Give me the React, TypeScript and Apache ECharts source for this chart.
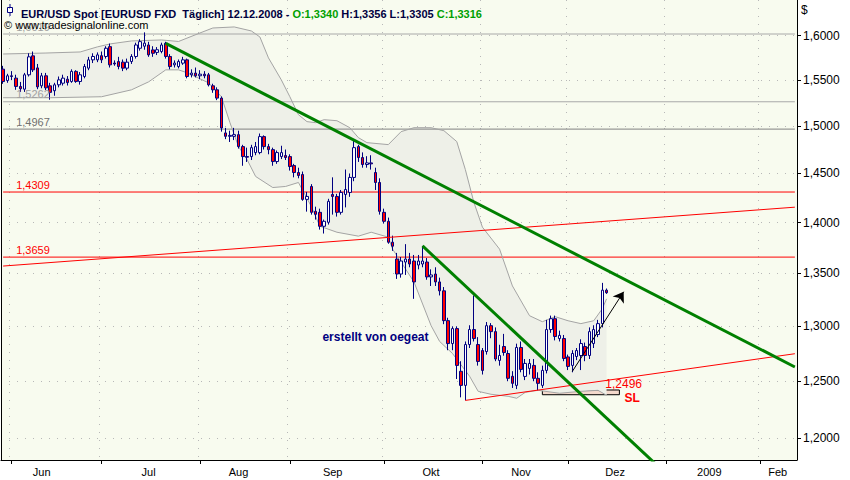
import React, { useEffect, useRef } from 'react';
import * as echarts from 'echarts';

// ---------- data ----------
const FIRST_DAY = '2008-05-29';
const DAY_COUNT = 186; // trading days shown on the axis (to Feb 2009)
const MONTHS_DE = ['Jan', 'Feb', 'Mär', 'Apr', 'Mai', 'Jun', 'Jul', 'Aug', 'Sep', 'Okt', 'Nov', 'Dez'];
// trading days on which the month names are written
const monthLabelDays = ['2008-06-11', '2008-07-16', '2008-08-14', '2008-09-15', '2008-10-16', '2008-11-14', '2008-12-16', '2009-01-15', '2009-02-06'];

const priceTicks = [1.2, 1.25, 1.3, 1.35, 1.4, 1.45, 1.5, 1.55, 1.6];
const priceMin = 1.1816;
const priceMax = 1.6413;

// daily EUR/USD candles from 2008-05-29: [open, high, low, close]
const ohlc: number[][] = [
  [1.5622, 1.5659, 1.5459, 1.5484], [1.5495, 1.557, 1.547, 1.5548], [1.5548, 1.56, 1.55, 1.554],
  [1.5522, 1.556, 1.5393, 1.543], [1.543, 1.548, 1.537, 1.5405], [1.54, 1.558, 1.537, 1.5559],
  [1.5559, 1.58, 1.554, 1.576], [1.5771, 1.582, 1.559, 1.5614], [1.5636, 1.568, 1.54, 1.5425],
  [1.5437, 1.558, 1.541, 1.5548], [1.5548, 1.558, 1.539, 1.5415], [1.5437, 1.547, 1.5284, 1.5365],
  [1.5383, 1.547, 1.5328, 1.5448], [1.5448, 1.554, 1.542, 1.5503], [1.5466, 1.556, 1.544, 1.5522],
  [1.551, 1.5545, 1.544, 1.5473], [1.5485, 1.562, 1.547, 1.5597], [1.5597, 1.561, 1.547, 1.5485],
  [1.5485, 1.559, 1.545, 1.5559], [1.554, 1.568, 1.552, 1.5651], [1.5633, 1.576, 1.561, 1.5726],
  [1.5726, 1.58, 1.569, 1.5764], [1.5726, 1.581, 1.57, 1.5782], [1.5773, 1.582, 1.569, 1.5726],
  [1.5764, 1.588, 1.574, 1.5857], [1.5875, 1.591, 1.564, 1.567], [1.569, 1.572, 1.566, 1.568],
  [1.5707, 1.576, 1.562, 1.5651], [1.57, 1.573, 1.56, 1.5633], [1.5633, 1.574, 1.561, 1.57],
  [1.5707, 1.579, 1.568, 1.5764], [1.5764, 1.592, 1.574, 1.5894], [1.5857, 1.596, 1.583, 1.5932],
  [1.588, 1.6038, 1.584, 1.5915], [1.5894, 1.593, 1.576, 1.5782], [1.5838, 1.588, 1.576, 1.58],
  [1.581, 1.587, 1.578, 1.584], [1.582, 1.592, 1.58, 1.5894], [1.5913, 1.593, 1.574, 1.5764],
  [1.5764, 1.579, 1.562, 1.5651], [1.567, 1.572, 1.564, 1.569], [1.5651, 1.573, 1.563, 1.5707],
  [1.5689, 1.576, 1.567, 1.5726], [1.5726, 1.574, 1.552, 1.554], [1.5559, 1.562, 1.553, 1.5578],
  [1.5578, 1.564, 1.553, 1.5548], [1.5548, 1.561, 1.551, 1.5566], [1.5566, 1.56, 1.552, 1.5548],
  [1.5559, 1.558, 1.543, 1.5448], [1.5437, 1.546, 1.536, 1.5393], [1.5393, 1.542, 1.528, 1.5302],
  [1.5302, 1.532, 1.494, 1.4979], [1.4926, 1.498, 1.486, 1.489], [1.489, 1.495, 1.483, 1.49],
  [1.489, 1.498, 1.485, 1.4908], [1.4908, 1.495, 1.476, 1.4781], [1.4781, 1.48, 1.458, 1.4676],
  [1.4676, 1.477, 1.462, 1.467], [1.4676, 1.48, 1.464, 1.477], [1.4718, 1.483, 1.469, 1.4781],
  [1.4718, 1.492, 1.47, 1.4887], [1.4887, 1.49, 1.475, 1.4781], [1.4781, 1.481, 1.47, 1.4749],
  [1.4749, 1.477, 1.458, 1.4624], [1.4624, 1.474, 1.46, 1.4718], [1.4676, 1.479, 1.465, 1.4718],
  [1.4687, 1.475, 1.464, 1.4666], [1.4676, 1.47, 1.453, 1.4572], [1.4582, 1.46, 1.446, 1.451],
  [1.451, 1.456, 1.445, 1.4479], [1.4489, 1.452, 1.422, 1.4234], [1.4234, 1.431, 1.411, 1.4264],
  [1.4366, 1.439, 1.408, 1.4103], [1.4113, 1.416, 1.403, 1.4083], [1.4103, 1.414, 1.393, 1.3963],
  [1.3963, 1.403, 1.3891, 1.4013], [1.4003, 1.424, 1.398, 1.4214], [1.4284, 1.446, 1.408, 1.4264],
  [1.4264, 1.429, 1.406, 1.4103], [1.4103, 1.433, 1.408, 1.4305], [1.4284, 1.4541, 1.4153, 1.4335],
  [1.4305, 1.45, 1.426, 1.4459], [1.4459, 1.484, 1.442, 1.477], [1.4781, 1.48, 1.462, 1.4666],
  [1.4666, 1.472, 1.456, 1.4593], [1.4593, 1.468, 1.456, 1.461], [1.461, 1.469, 1.454, 1.46],
  [1.451, 1.456, 1.433, 1.4407], [1.4407, 1.445, 1.408, 1.4113], [1.4103, 1.414, 1.399, 1.4013],
  [1.4013, 1.405, 1.379, 1.3805], [1.3805, 1.387, 1.372, 1.3766], [1.364, 1.37, 1.3448, 1.3495],
  [1.3495, 1.366, 1.346, 1.3621], [1.3611, 1.3786, 1.3486, 1.364], [1.364, 1.37, 1.356, 1.3592],
  [1.3621, 1.368, 1.3258, 1.3419], [1.3582, 1.368, 1.354, 1.3621], [1.3592, 1.3769, 1.356, 1.3621],
  [1.3611, 1.365, 1.344, 1.3467], [1.3467, 1.354, 1.338, 1.3486], [1.3495, 1.356, 1.338, 1.3419],
  [1.3419, 1.346, 1.329, 1.3334], [1.3334, 1.337, 1.302, 1.3053], [1.3053, 1.308, 1.278, 1.2841],
  [1.2841, 1.3, 1.278, 1.2979], [1.2979, 1.3, 1.252, 1.2642], [1.2589, 1.268, 1.2357, 1.2463],
  [1.2463, 1.286, 1.233, 1.2832], [1.2832, 1.301, 1.28, 1.297], [1.297, 1.329, 1.286, 1.2887],
  [1.2832, 1.29, 1.264, 1.2678], [1.2777, 1.28, 1.256, 1.2597], [1.2768, 1.304, 1.274, 1.3006],
  [1.3006, 1.303, 1.289, 1.2951], [1.2951, 1.299, 1.268, 1.27], [1.2687, 1.283, 1.264, 1.2732],
  [1.2814, 1.293, 1.273, 1.2759], [1.275, 1.278, 1.25, 1.2526], [1.2544, 1.259, 1.244, 1.2481],
  [1.2463, 1.284, 1.243, 1.2805], [1.2805, 1.286, 1.258, 1.2606], [1.2543, 1.27, 1.251, 1.266],
  [1.2615, 1.27, 1.256, 1.266], [1.2642, 1.27, 1.25, 1.2526], [1.2526, 1.258, 1.242, 1.2481],
  [1.2463, 1.264, 1.244, 1.2597], [1.2597, 1.306, 1.257, 1.297], [1.297, 1.31, 1.294, 1.3071],
  [1.3071, 1.31, 1.287, 1.2906], [1.2887, 1.296, 1.286, 1.2916], [1.2887, 1.292, 1.268, 1.2705],
  [1.2719, 1.274, 1.26, 1.2633], [1.2642, 1.278, 1.258, 1.275], [1.2723, 1.28, 1.269, 1.2777],
  [1.2732, 1.288, 1.26, 1.2841], [1.2814, 1.285, 1.268, 1.2732], [1.2732, 1.299, 1.27, 1.2951],
  [1.2841, 1.301, 1.28, 1.297], [1.2924, 1.306, 1.29, 1.3025], [1.3025, 1.341, 1.299, 1.334],
  [1.334, 1.3356, 1.3305, 1.3316],
];

// Bollinger bands: [date, price]
const upperBand: [string, number][] = [
  ['2008-05-29', 1.5792], ['2008-06-12', 1.5803], ['2008-06-24', 1.5815], ['2008-06-30', 1.5872],
  ['2008-07-03', 1.5906], ['2008-07-10', 1.594], ['2008-07-21', 1.5951], ['2008-07-25', 1.5934],
  ['2008-08-01', 1.6031], ['2008-08-06', 1.6088], ['2008-08-13', 1.61], ['2008-08-19', 1.6054],
  ['2008-08-21', 1.5985], ['2008-08-25', 1.5748], ['2008-08-28', 1.5503], ['2008-09-01', 1.5317],
  ['2008-09-03', 1.5122], ['2008-09-05', 1.5047], ['2008-09-09', 1.5036], ['2008-09-11', 1.5068],
  ['2008-09-16', 1.5057], ['2008-09-19', 1.4982], ['2008-09-23', 1.4876], ['2008-09-25', 1.4823],
  ['2008-10-02', 1.4802], ['2008-10-07', 1.494], ['2008-10-10', 1.4982], ['2008-10-16', 1.4982],
  ['2008-10-21', 1.495], ['2008-10-24', 1.4834], ['2008-10-28', 1.4541], ['2008-10-30', 1.4204],
  ['2008-11-03', 1.3954], ['2008-11-07', 1.3737], ['2008-11-12', 1.3381], ['2008-11-18', 1.3099],
  ['2008-11-21', 1.3043], ['2008-11-26', 1.309], ['2008-12-01', 1.3052], ['2008-12-04', 1.3025],
  ['2008-12-09', 1.3052], ['2008-12-11', 1.3164], ['2008-12-12', 1.3258],
];
const lowerBand: [string, number][] = [
  ['2008-05-29', 1.5306], ['2008-06-13', 1.5306], ['2008-07-01', 1.5317], ['2008-07-10', 1.5393],
  ['2008-07-16', 1.5481], ['2008-07-22', 1.5614], ['2008-07-25', 1.5614], ['2008-07-29', 1.5581],
  ['2008-08-05', 1.547], ['2008-08-08', 1.5317], ['2008-08-12', 1.5036], ['2008-08-14', 1.4781],
  ['2008-08-18', 1.4645], ['2008-08-20', 1.4469], ['2008-08-26', 1.4355], ['2008-08-29', 1.4366],
  ['2008-09-03', 1.4407], ['2008-09-08', 1.4163], ['2008-09-10', 1.3964], ['2008-09-16', 1.3904],
  ['2008-09-23', 1.3865], ['2008-09-26', 1.3904], ['2008-10-02', 1.3855], ['2008-10-03', 1.3737],
  ['2008-10-10', 1.3419], ['2008-10-16', 1.3006], ['2008-10-20', 1.286], ['2008-10-23', 1.275],
  ['2008-10-29', 1.2544], ['2008-10-31', 1.241], ['2008-11-05', 1.2384], ['2008-11-11', 1.2366],
  ['2008-11-13', 1.2349], ['2008-11-17', 1.2401], ['2008-11-20', 1.2419], ['2008-11-27', 1.2393],
  ['2008-12-04', 1.241], ['2008-12-10', 1.2419], ['2008-12-12', 1.2375],
];

// horizontal levels
const levelValues = [1.6019, 1.5262, 1.4967, 1.4309, 1.3659];

// trend lines: [date, price] anchors
const greenTrend1: [string, number][] = [['2008-07-22', 1.5913], ['2009-02-12', 1.2628]];
const greenTrend2: [string, number][] = [['2008-10-14', 1.3769], ['2009-01-01', 1.1697]];
const redTrend1: [string, number][] = [['2008-10-28', 1.233], ['2009-02-12', 1.2748]];
const redTrend2: [string, number][] = [['2008-05-29', 1.3572], ['2009-02-12', 1.4155]];
const arrowLine: [string, number][] = [['2008-12-02', 1.2588], ['2008-12-18', 1.3325]];
const slBox: [string, number][] = [['2008-11-21', 1.2422], ['2008-12-17', 1.238]];
const slValue = 1.2496;
const slValueAnchor: [string, number] = ['2008-12-18', 1.2472];
const slTextAnchor: [string, number] = ['2008-12-22', 1.2353];
const authorAnchor: [string, number] = ['2008-09-29', 1.2898];

// ---------- helpers ----------
const FONT = '"Liberation Sans", Arial, sans-serif';
const ln = Math.log;
const fmt = (v: number) => v.toFixed(4).replace('.', ',');

function tradingDays(first: string, count: number): string[] {
  const out: string[] = [];
  const d = new Date(first + 'T00:00:00Z');
  while (out.length < count) {
    const wd = d.getUTCDay();
    if (wd !== 0 && wd !== 6) out.push(d.toISOString().slice(0, 10));
    d.setUTCDate(d.getUTCDate() + 1);
  }
  return out;
}

const dates = tradingDays(FIRST_DAY, DAY_COUNT);
const idx = (d: string) => dates.indexOf(d);
const monthStarts = new Set<number>();
dates.forEach((d, i) => {
  if (i > 0 && d.slice(5, 7) !== dates[i - 1].slice(5, 7)) monthStarts.add(i);
});
const labelIdx = new Set<number>(monthLabelDays.map(idx));

const levelLine = ['#A8A8A8', '#A8A8A8', '#808080', '#FF0000', '#FF0000'];
const levelText = ['#A0A0A0', '#A0A0A0', '#707070', '#FF0000', '#FF0000'];

function trend(points: [string, number][], color: string, width: number, z: number) {
  return {
    type: 'line',
    data: points.map(([d, p]) => [d, ln(p)]),
    symbol: 'none',
    clip: true,
    silent: true,
    z,
    itemStyle: { color },
    lineStyle: { color, width },
  };
}

// a horizontal level: a line across all trading days, labelled above its left end
function level(v: number, i: number) {
  return {
    type: 'line',
    data: [[dates[0], ln(v)], [dates[dates.length - 1], ln(v)]],
    symbol: 'none',
    z: 3,
    silent: true,
    itemStyle: { color: levelLine[i] },
    lineStyle: { color: levelLine[i], width: 1, type: 'solid' },
    markPoint: {
      silent: true,
      symbol: 'circle',
      symbolSize: 1,
      itemStyle: { color: 'rgba(0,0,0,0)' },
      data: [
        {
          coord: [dates[0], ln(v)],
          label: {
            show: true,
            position: 'inside',
            align: 'left',
            verticalAlign: 'bottom',
            offset: [13, -2],
            formatter: fmt(v),
            color: levelText[i],
            fontSize: 11,
            fontFamily: FONT,
          },
        },
      ],
    },
  };
}

export default function App() {
  const ref = useRef<HTMLDivElement>(null);
  useEffect(() => {
    if (!ref.current) return;
    const chart = echarts.init(ref.current, undefined, { renderer: 'svg' });
    const tickLn = priceTicks.map((p) => ln(p));
    const candleData = ohlc.map(([o, h, l, c]) => [ln(o), ln(c), ln(l), ln(h)]);
    const grid = '#B8B8B8';

    const option: any = {
      animation: false,
      backgroundColor: '#FFFFFF',
      textStyle: { fontFamily: FONT },
      title: {
        left: 16,
        top: 3,
        text: '{n|EUR/USD Spot [EURUSD FXD  Täglich] 12.12.2008 - }{g|O:1,3340}{n| H:1,3356 L:1,3305 }{g|C:1,3316}',
        textStyle: {
          rich: {
            n: { color: '#000040', fontSize: 11, fontFamily: FONT },
            g: { color: '#00A000', fontSize: 11, fontFamily: FONT },
          },
        },
      },
      grid: {
        left: 1,
        top: 0,
        width: 796,
        height: 460,
        show: true,
        backgroundColor: '#F8FBEF',
        borderWidth: 0,
      },
      xAxis: {
        type: 'category',
        data: dates,
        boundaryGap: true,
        axisLine: { show: true, lineStyle: { color: '#000', width: 1 } },
        axisTick: {
          show: true,
          alignWithLabel: true,
          interval: (i: number) => monthStarts.has(i),
          length: 4,
          lineStyle: { color: '#000' },
        },
        axisLabel: {
          show: true,
          interval: (i: number) => labelIdx.has(i),
          formatter: (v: string) => {
            const m = +v.slice(5, 7);
            return m === 1 ? v.slice(0, 4) : MONTHS_DE[m - 1];
          },
          color: '#000',
          fontSize: 11,
          margin: 6,
          fontFamily: FONT,
        },
        splitLine: {
          show: true,
          interval: (i: number) => monthStarts.has(i),
          lineStyle: { color: grid, type: [1, 7], width: 1 },
        },
      },
      yAxis: [
        {
          type: 'value',
          position: 'right',
          min: ln(priceMin),
          max: ln(priceMax),
          axisLine: { show: true, onZero: false, lineStyle: { color: '#000' } },
          axisTick: { show: true, customValues: tickLn, length: 4, lineStyle: { color: '#000' } },
          axisLabel: {
            show: true,
            customValues: tickLn,
            formatter: (v: number) => fmt(Math.exp(v)),
            color: '#000',
            fontSize: 12,
            margin: 6,
            fontFamily: FONT,
          },
          splitLine: { show: true, lineStyle: { color: grid, type: [1, 7], width: 1 } },
        },
        {
          type: 'value',
          position: 'left',
          min: ln(priceMin),
          max: ln(priceMax),
          axisLine: { show: true, onZero: false, lineStyle: { color: '#000' } },
          axisTick: { show: false },
          axisLabel: { show: false },
          splitLine: { show: false },
        },
      ],
      graphic: [
        { type: 'line', shape: { x1: 10, y1: 4, x2: 10, y2: 16 }, style: { stroke: '#000080', lineWidth: 1 } },
        { type: 'rect', shape: { x: 7.5, y: 7.5, width: 5, height: 5 }, style: { fill: '#FFFFFF', stroke: '#000080', lineWidth: 1 } },
        { type: 'text', left: 4, top: 19, z: 100, style: { text: '© www.tradesignalonline.com', fill: '#000000', font: `11px ${FONT}` } },
        { type: 'text', left: 801, top: 4, style: { text: '$', fill: '#000000', font: `12px ${FONT}` } },
      ],
      series: [
        {
          type: 'custom',
          z: 1,
          silent: true,
          clip: true,
          data: [[0, ln(1.4)]],
          renderItem: (_p: any, api: any) => {
            const pts = [
              ...upperBand.map(([d, p]) => api.coord([idx(d), ln(p)])),
              ...lowerBand.slice().reverse().map(([d, p]) => api.coord([idx(d), ln(p)])),
            ];
            return { type: 'polygon', shape: { points: pts }, style: { fill: '#EEF0E8' } };
          },
        },
        {
          type: 'line',
          z: 2,
          silent: true,
          data: [],
          markArea: {
            silent: true,
            itemStyle: { color: '#F4D9CC', borderColor: '#000', borderWidth: 1 },
            data: [[{ coord: [slBox[0][0], ln(slBox[0][1])] }, { coord: [slBox[1][0], ln(slBox[1][1])] }]],
          },
        },
        ...levelValues.map((v, i) => level(v, i)),
        trend(upperBand, '#A4A4A4', 1, 3),
        trend(lowerBand, '#A4A4A4', 1, 3),
        {
          type: 'candlestick',
          z: 4,
          silent: true,
          barWidth: 3,
          data: candleData,
          itemStyle: {
            color: '#FFFFFF',
            color0: '#FF0000',
            borderColor: '#000080',
            borderColor0: '#000080',
            borderWidth: 1,
          },
        },
        trend(redTrend2, '#FF0000', 1, 5),
        trend(redTrend1, '#FF0000', 1, 5),
        trend(greenTrend1, '#008000', 3, 6),
        trend(greenTrend2, '#008000', 3, 6),
        {
          type: 'line',
          z: 7,
          silent: true,
          data: [],
          markLine: {
            silent: true,
            symbol: ['none', 'arrow'],
            symbolSize: 10,
            lineStyle: { color: '#000000', width: 1, type: 'solid' },
            itemStyle: { color: '#000000' },
            label: { show: false },
            data: [[{ coord: [arrowLine[0][0], ln(arrowLine[0][1])] }, { coord: [arrowLine[1][0], ln(arrowLine[1][1])] }]],
          },
          markPoint: {
            silent: true,
            symbol: 'circle',
            symbolSize: 1,
            itemStyle: { color: 'rgba(0,0,0,0)' },
            data: [
              {
                coord: [slValueAnchor[0], ln(slValueAnchor[1])],
                label: { show: true, position: 'inside', formatter: fmt(slValue), color: '#FF0000', fontSize: 12, fontFamily: FONT },
              },
              {
                coord: [slTextAnchor[0], ln(slTextAnchor[1])],
                label: { show: true, position: 'inside', formatter: 'SL', color: '#FF0000', fontSize: 12, fontWeight: 'bold', fontFamily: FONT },
              },
              {
                coord: [authorAnchor[0], ln(authorAnchor[1])],
                label: { show: true, position: 'inside', formatter: 'erstellt von oegeat', color: '#000080', fontSize: 12, fontWeight: 'bold', fontFamily: FONT },
              },
            ],
          },
        },
      ],
    };
    chart.setOption(option);
    return () => chart.dispose();
  }, []);
  return <div ref={ref} style={{ position: 'absolute', left: 0, top: 0, width: 850, height: 480 }} />;
}
